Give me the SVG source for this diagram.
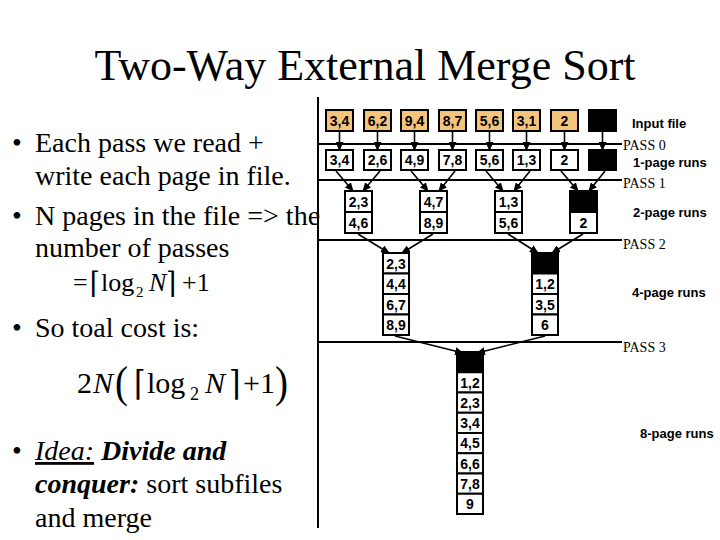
<svg xmlns="http://www.w3.org/2000/svg" width="720" height="540" viewBox="0 0 720 540">
<style>
.t{font-family:"Liberation Serif","Times New Roman",serif;fill:#000}
.m{font-family:"DejaVu Serif",serif;fill:#000}
.b{font-family:"Liberation Sans",Arial,sans-serif;font-weight:bold;font-size:14px;text-anchor:middle;fill:#000}
.lbl{font-family:"Liberation Sans",Arial,sans-serif;font-weight:bold;font-size:13px;fill:#000}
.pass{font-family:"Liberation Serif","Times New Roman",serif;font-size:14px;fill:#000}
.in{fill:#F4C47C;stroke:#000;stroke-width:2}
.w{fill:#fff;stroke:#000;stroke-width:2}
.k{fill:#000;stroke:#000;stroke-width:2}
.ln{stroke:#000;stroke-width:2;fill:none}
.ar{stroke:#000;stroke-width:1.6;fill:none;marker-end:url(#ah)}
</style>
<defs>
<marker id="ah" markerUnits="userSpaceOnUse" markerWidth="9" markerHeight="8" refX="8" refY="4" orient="auto">
<path d="M0,0 L9,4 L0,8 Z" fill="#000"/>
</marker>
</defs>
<rect width="720" height="540" fill="#fff"/>
<text class="t" x="365" y="80" font-size="44" text-anchor="middle">Two-Way External Merge Sort</text>

<g id="bullets">
<text class="t" font-size="28" x="12" y="152">•</text>
<text class="t" font-size="28" x="35" y="152">Each pass we read +</text>
<text class="t" font-size="28" x="35" y="185">write each page in file.</text>
<text class="t" font-size="28" x="12" y="225">•</text>
<text class="t" font-size="28" x="35" y="225">N pages in the file =&gt; the</text>
<text class="t" font-size="28" x="35" y="257">number of passes</text>
<text class="t" font-size="26" x="73" y="291">=</text>
<text class="m" font-size="26" x="0" y="0" transform="translate(90,293) scale(1,1.15)">⌈</text>
<text class="t" font-size="26" x="101" y="291">log</text>
<text class="t" font-size="15" x="136" y="297">2</text>
<text class="t" font-size="26" x="149" y="291" font-style="italic">N</text>
<text class="m" font-size="26" x="0" y="0" transform="translate(166,293) scale(1,1.15)">⌉</text>
<text class="t" font-size="26" x="182" y="291">+1</text>
<text class="t" font-size="28" x="12" y="337">•</text>
<text class="t" font-size="28" x="35" y="337">So toal cost is:</text>
<text class="t" font-size="30" x="77" y="393">2</text>
<text class="t" font-size="30" x="93" y="393" font-style="italic">N</text>
<text class="t" font-size="30" x="0" y="0" transform="translate(115,397) scale(1.3,1.5)">(</text>
<text class="m" font-size="30" x="0" y="0" transform="translate(134,395) scale(1,1.15)">⌈</text>
<text class="t" font-size="30" x="147" y="393">log</text>
<text class="t" font-size="18" x="190" y="400">2</text>
<text class="t" font-size="30" x="205" y="393" font-style="italic">N</text>
<text class="m" font-size="30" x="0" y="0" transform="translate(229,395) scale(1,1.15)">⌉</text>
<text class="t" font-size="30" x="243" y="393">+1</text>
<text class="t" font-size="30" x="0" y="0" transform="translate(275,397) scale(1.3,1.5)">)</text>
<text class="t" font-size="28" x="12" y="460">•</text>
<text class="t" font-size="28" x="35" y="460"><tspan font-style="italic" text-decoration="underline">Idea:</tspan><tspan font-style="italic" font-weight="bold">  Divide and</tspan></text>
<text class="t" font-size="28" x="35" y="493"><tspan font-style="italic" font-weight="bold">conquer:</tspan> sort subfiles</text>
<text class="t" font-size="28" x="35" y="527">and merge</text>
</g>

<g id="frame">
<line class="ln" x1="318" y1="97" x2="318" y2="528"/>
<line class="ln" x1="318" y1="144" x2="622" y2="144"/>
<line class="ln" x1="318" y1="180" x2="622" y2="180"/>
<line class="ln" x1="318" y1="240" x2="622" y2="240"/>
<line class="ln" x1="318" y1="342" x2="622" y2="342"/>
</g>

<g id="labels">
<text class="lbl" x="632" y="128">Input file</text>
<text class="pass" x="623" y="150">PASS 0</text>
<text class="lbl" x="633" y="167">1-page runs</text>
<text class="pass" x="623" y="188">PASS 1</text>
<text class="lbl" x="633" y="217">2-page runs</text>
<text class="pass" x="623" y="249">PASS 2</text>
<text class="lbl" x="632" y="297">4-page runs</text>
<text class="pass" x="623" y="352">PASS 3</text>
<text class="lbl" x="640" y="438">8-page runs</text>
</g>

<g id="input">
<g id="in1"><rect class="in" x="326" y="110" width="27" height="21"/><text class="b" x="339.5" y="126">3,4</text></g>
<g id="in2"><rect class="in" x="364" y="110" width="27" height="21"/><text class="b" x="377.5" y="126">6,2</text></g>
<g id="in3"><rect class="in" x="401" y="110" width="27" height="21"/><text class="b" x="414.5" y="126">9,4</text></g>
<g id="in4"><rect class="in" x="439" y="110" width="27" height="21"/><text class="b" x="452.5" y="126">8,7</text></g>
<g id="in5"><rect class="in" x="476" y="110" width="27" height="21"/><text class="b" x="489.5" y="126">5,6</text></g>
<g id="in6"><rect class="in" x="513" y="110" width="27" height="21"/><text class="b" x="526.5" y="126">3,1</text></g>
<g id="in7"><rect class="in" x="551" y="110" width="27" height="21"/><text class="b" x="564.5" y="126">2</text></g>
<g id="in8"><rect class="k" x="589" y="110" width="27" height="21"/></g>
</g>

<g id="runs1">
<g id="r1a"><rect class="w" x="326" y="150" width="27" height="20"/><text class="b" x="339.5" y="165">3,4</text></g>
<g id="r1b"><rect class="w" x="364" y="150" width="27" height="20"/><text class="b" x="377.5" y="165">2,6</text></g>
<g id="r1c"><rect class="w" x="401" y="150" width="27" height="20"/><text class="b" x="414.5" y="165">4,9</text></g>
<g id="r1d"><rect class="w" x="439" y="150" width="27" height="20"/><text class="b" x="452.5" y="165">7,8</text></g>
<g id="r1e"><rect class="w" x="476" y="150" width="27" height="20"/><text class="b" x="489.5" y="165">5,6</text></g>
<g id="r1f"><rect class="w" x="513" y="150" width="27" height="20"/><text class="b" x="526.5" y="165">1,3</text></g>
<g id="r1g"><rect class="w" x="551" y="150" width="27" height="20"/><text class="b" x="564.5" y="165">2</text></g>
<g id="r1h"><rect class="k" x="589" y="150" width="27" height="20"/></g>
</g>

<g id="runs2">
<g id="r2a"><rect class="w" x="345" y="191" width="27" height="21"/><rect class="w" x="345" y="212" width="27" height="21"/><text class="b" x="358.5" y="207">2,3</text><text class="b" x="358.5" y="228">4,6</text></g>
<g id="r2b"><rect class="w" x="420" y="191" width="27" height="21"/><rect class="w" x="420" y="212" width="27" height="21"/><text class="b" x="433.5" y="207">4,7</text><text class="b" x="433.5" y="228">8,9</text></g>
<g id="r2c"><rect class="w" x="495" y="191" width="27" height="21"/><rect class="w" x="495" y="212" width="27" height="21"/><text class="b" x="508.5" y="207">1,3</text><text class="b" x="508.5" y="228">5,6</text></g>
<g id="r2d"><rect class="k" x="570" y="191" width="27" height="21"/><rect class="w" x="570" y="212" width="27" height="21"/><text class="b" x="583.5" y="228">2</text></g>
</g>

<g id="runs4">
<g id="r4a">
<rect class="w" x="383" y="253" width="26" height="20.5"/><rect class="w" x="383" y="273.5" width="26" height="20.5"/><rect class="w" x="383" y="294" width="26" height="20.5"/><rect class="w" x="383" y="314.5" width="26" height="20.5"/>
<text class="b" x="396" y="268.5">2,3</text><text class="b" x="396" y="289">4,4</text><text class="b" x="396" y="309.5">6,7</text><text class="b" x="396" y="330">8,9</text>
</g>
<g id="r4b">
<rect class="k" x="532" y="253" width="26" height="20.5"/><rect class="w" x="532" y="273.5" width="26" height="20.5"/><rect class="w" x="532" y="294" width="26" height="20.5"/><rect class="w" x="532" y="314.5" width="26" height="20.5"/>
<text class="b" x="545" y="289">1,2</text><text class="b" x="545" y="309.5">3,5</text><text class="b" x="545" y="330">6</text>
</g>
</g>

<g id="runs8">
<rect class="k" x="457" y="352" width="26" height="20.25"/>
<rect class="w" x="457" y="372.25" width="26" height="20.25"/>
<rect class="w" x="457" y="392.5" width="26" height="20.25"/>
<rect class="w" x="457" y="412.75" width="26" height="20.25"/>
<rect class="w" x="457" y="433" width="26" height="20.25"/>
<rect class="w" x="457" y="453.25" width="26" height="20.25"/>
<rect class="w" x="457" y="473.5" width="26" height="20.25"/>
<rect class="w" x="457" y="493.75" width="26" height="20.25"/>
<text class="b" x="470" y="387.5">1,2</text>
<text class="b" x="470" y="407.75">2,3</text>
<text class="b" x="470" y="428">3,4</text>
<text class="b" x="470" y="448.25">4,5</text>
<text class="b" x="470" y="468.5">6,6</text>
<text class="b" x="470" y="488.75">7,8</text>
<text class="b" x="470" y="509">9</text>
</g>

<g id="connectors">
<line class="ar" x1="339.5" y1="131" x2="339.5" y2="150"/>
<line class="ar" x1="377.5" y1="131" x2="377.5" y2="150"/>
<line class="ar" x1="414.5" y1="131" x2="414.5" y2="150"/>
<line class="ar" x1="452.5" y1="131" x2="452.5" y2="150"/>
<line class="ar" x1="489.5" y1="131" x2="489.5" y2="150"/>
<line class="ar" x1="526.5" y1="131" x2="526.5" y2="150"/>
<line class="ar" x1="564.5" y1="131" x2="564.5" y2="150"/>
<line class="ar" x1="602.5" y1="131" x2="602.5" y2="150"/>

<line class="ar" x1="336" y1="171" x2="353" y2="191"/>
<line class="ar" x1="380" y1="171" x2="363" y2="191"/>
<line class="ar" x1="411" y1="171" x2="428" y2="191"/>
<line class="ar" x1="455" y1="171" x2="439" y2="191"/>
<line class="ar" x1="486" y1="171" x2="503" y2="191"/>
<line class="ar" x1="530" y1="171" x2="514" y2="191"/>
<line class="ar" x1="561" y1="171" x2="578" y2="191"/>
<line class="ar" x1="605" y1="171" x2="589" y2="191"/>

<line class="ar" x1="358" y1="234" x2="389" y2="253"/>
<line class="ar" x1="433" y1="234" x2="402" y2="253"/>
<line class="ar" x1="508" y1="234" x2="538" y2="253"/>
<line class="ar" x1="583" y1="234" x2="552" y2="253"/>

<line class="ar" x1="395" y1="336" x2="463" y2="353"/>
<line class="ar" x1="545" y1="336" x2="477" y2="353"/>
</g>
</svg>
